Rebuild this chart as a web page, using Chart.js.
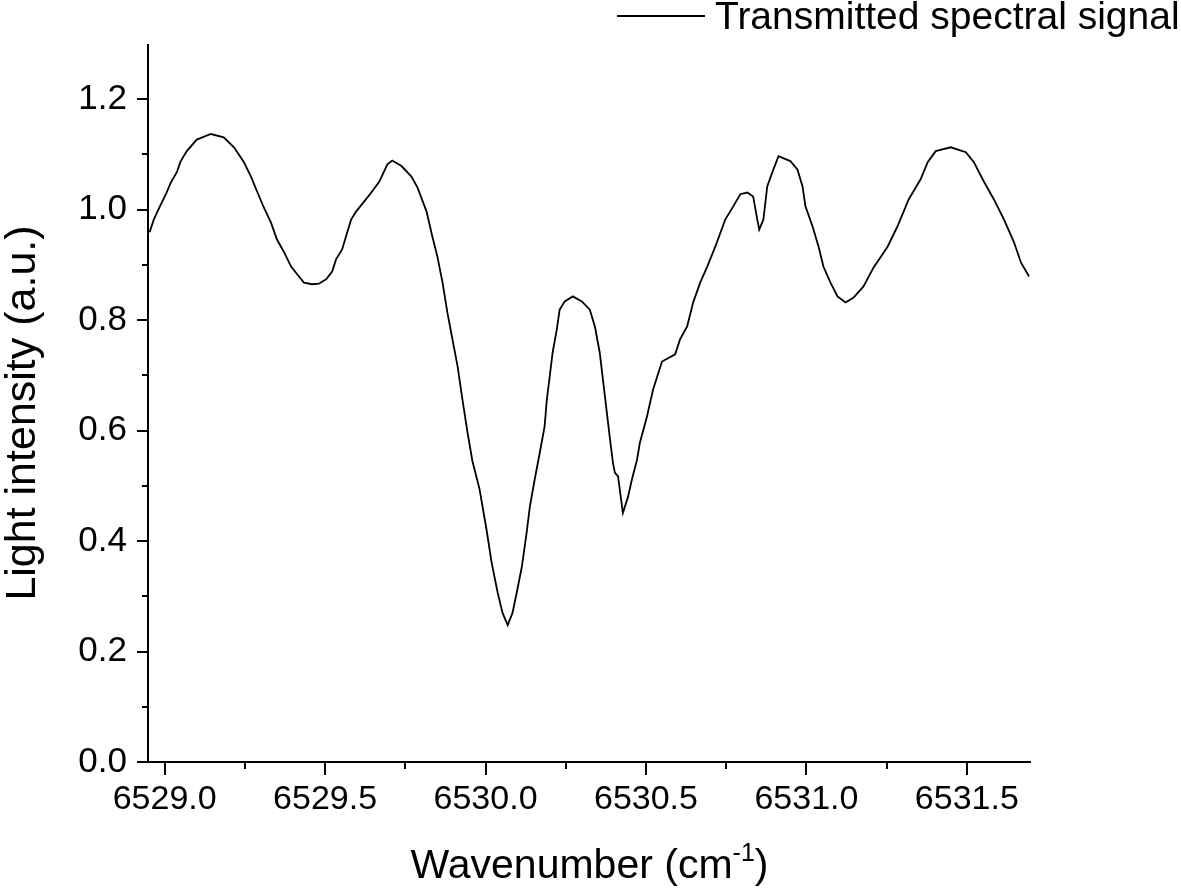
<!DOCTYPE html>
<html lang="en">
<head>
    <meta charset="UTF-8">
    <title>Transmitted spectral signal</title>
    <style>
        * {
            margin: 0;
            padding: 0;
            box-sizing: border-box;
        }
        body {
            background: #fff;
            width: 1181px;
            height: 890px;
            overflow: hidden;
        }
    </style>
</head>
<body>

    <canvas id="spectrumChart" width="1181" height="890"></canvas>

    <script src="https://cdn.jsdelivr.net/npm/chart.js"></script>

    <script>
        // Wavenumber (cm-1) and light intensity (a.u.)
        const wavenumber = [
            6528.953, 6528.966, 6528.981, 6529.006, 6529.019, 6529.038, 6529.050, 6529.069, 6529.100, 6529.144,
            6529.184, 6529.216, 6529.247, 6529.269, 6529.288, 6529.309, 6529.331, 6529.350, 6529.372, 6529.394,
            6529.413, 6529.434, 6529.459, 6529.481, 6529.503, 6529.522, 6529.534, 6529.553, 6529.569, 6529.581,
            6529.597, 6529.622, 6529.644, 6529.669, 6529.694, 6529.709, 6529.738, 6529.769, 6529.788, 6529.816,
            6529.834, 6529.850, 6529.866, 6529.881, 6529.897, 6529.913, 6529.928, 6529.944, 6529.959, 6529.981,
            6530.003, 6530.019, 6530.038, 6530.053, 6530.069, 6530.084, 6530.097, 6530.113, 6530.128, 6530.138,
            6530.153, 6530.169, 6530.184, 6530.191, 6530.200, 6530.209, 6530.222, 6530.231, 6530.247, 6530.272,
            6530.300, 6530.325, 6530.341, 6530.356, 6530.366, 6530.378, 6530.388, 6530.397, 6530.403, 6530.413,
            6530.428, 6530.444, 6530.456, 6530.472, 6530.481, 6530.503, 6530.522, 6530.550, 6530.591, 6530.606,
            6530.628, 6530.647, 6530.669, 6530.691, 6530.716, 6530.747, 6530.772, 6530.794, 6530.816, 6530.834,
            6530.847, 6530.853, 6530.866, 6530.878, 6530.894, 6530.913, 6530.950, 6530.972, 6530.988, 6530.997,
            6531.019, 6531.038, 6531.053, 6531.075, 6531.097, 6531.122, 6531.147, 6531.178, 6531.209, 6531.253,
            6531.284, 6531.319, 6531.356, 6531.378, 6531.403, 6531.450, 6531.497, 6531.522, 6531.553, 6531.584,
            6531.616, 6531.647, 6531.669, 6531.694
        ];
        const intensity = [
            0.959, 0.982, 1.001, 1.031, 1.049, 1.068, 1.088, 1.106, 1.127, 1.137,
            1.131, 1.113, 1.086, 1.060, 1.033, 1.004, 0.977, 0.946, 0.923, 0.897,
            0.883, 0.868, 0.865, 0.866, 0.874, 0.888, 0.910, 0.928, 0.959, 0.982,
            0.997, 1.015, 1.031, 1.051, 1.082, 1.089, 1.079, 1.060, 1.040, 0.997,
            0.952, 0.915, 0.868, 0.814, 0.765, 0.716, 0.656, 0.596, 0.545, 0.495,
            0.421, 0.361, 0.306, 0.270, 0.248, 0.270, 0.306, 0.353, 0.415, 0.462,
            0.511, 0.560, 0.607, 0.656, 0.698, 0.741, 0.783, 0.819, 0.834, 0.843,
            0.834, 0.819, 0.788, 0.741, 0.692, 0.633, 0.584, 0.542, 0.524, 0.517,
            0.451, 0.480, 0.511, 0.547, 0.578, 0.625, 0.674, 0.725, 0.738, 0.765,
            0.788, 0.832, 0.868, 0.897, 0.933, 0.982, 1.006, 1.028, 1.031, 1.024,
            0.982, 0.964, 0.982, 1.042, 1.068, 1.097, 1.088, 1.073, 1.042, 1.006,
            0.970, 0.933, 0.897, 0.868, 0.843, 0.832, 0.841, 0.861, 0.895, 0.933,
            0.970, 1.019, 1.055, 1.086, 1.106, 1.113, 1.104, 1.086, 1.051, 1.019,
            0.982, 0.941, 0.904, 0.879
        ];

        // Axis ticks
        const xMajorTicks = [6529.0, 6529.5, 6530.0, 6530.5, 6531.0, 6531.5];
        const xMinorTicks = [6529.25, 6529.75, 6530.25, 6530.75, 6531.25];
        const yMajorTicks = [0.0, 0.2, 0.4, 0.6, 0.8, 1.0, 1.2];
        const yMinorTicks = [0.1, 0.3, 0.5, 0.7, 0.9, 1.1];

        const seriesLabel = 'Transmitted spectral signal';
        const fontFamily = '"Liberation Sans", Arial, Helvetica, sans-serif';

        // Axis lines, outward ticks, legend and axis titles
        const frameDecor = {
            id: 'frameDecor',
            afterDraw(chart) {
                const c = chart.ctx;
                const area = chart.chartArea;
                const xs = chart.scales.x;
                const ys = chart.scales.y;
                c.save();
                c.strokeStyle = '#000';
                c.fillStyle = '#000';
                c.lineWidth = 2;

                // axis lines
                c.beginPath();
                c.moveTo(area.left, area.top);
                c.lineTo(area.left, area.bottom);
                c.moveTo(area.left - 1, area.bottom);
                c.lineTo(area.right, area.bottom);
                c.stroke();

                // ticks
                c.beginPath();
                xMajorTicks.forEach(v => {
                    const px = Math.round(xs.getPixelForValue(v));
                    c.moveTo(px, area.bottom);
                    c.lineTo(px, area.bottom + 13);
                });
                xMinorTicks.forEach(v => {
                    const px = Math.round(xs.getPixelForValue(v));
                    c.moveTo(px, area.bottom);
                    c.lineTo(px, area.bottom + 7);
                });
                yMajorTicks.forEach(v => {
                    const py = Math.round(ys.getPixelForValue(v));
                    c.moveTo(area.left, py);
                    c.lineTo(area.left - 11, py);
                });
                yMinorTicks.forEach(v => {
                    const py = Math.round(ys.getPixelForValue(v));
                    c.moveTo(area.left, py);
                    c.lineTo(area.left - 6, py);
                });
                c.stroke();

                // legend
                c.beginPath();
                c.moveTo(617, 16);
                c.lineTo(705, 16);
                c.stroke();
                c.font = '39px ' + fontFamily;
                c.textAlign = 'left';
                c.textBaseline = 'alphabetic';
                c.fillText(seriesLabel, 715, 29);

                // x title with superscript
                const mainFont = '41px ' + fontFamily;
                const supFont = '25px ' + fontFamily;
                const part1 = 'Wavenumber (cm';
                const sup = '-1';
                const part2 = ')';
                c.font = mainFont;
                const w1 = c.measureText(part1).width;
                const w3 = c.measureText(part2).width;
                c.font = supFont;
                const w2 = c.measureText(sup).width;
                let tx = (area.left + area.right) / 2 - (w1 + w2 + w3) / 2;
                const baseY = 878;
                c.font = mainFont;
                c.fillText(part1, tx, baseY);
                tx += w1;
                c.font = supFont;
                c.fillText(sup, tx, baseY - 17);
                tx += w2;
                c.font = mainFont;
                c.fillText(part2, tx, baseY);

                // y title
                c.translate(35, 413);
                c.rotate(-Math.PI / 2);
                c.font = '43px ' + fontFamily;
                c.textAlign = 'center';
                c.fillText('Light intensity (a.u.)', 0, 0);
                c.restore();
            }
        };

        const ctx = document.getElementById('spectrumChart').getContext('2d');
        new Chart(ctx, {
            type: 'line',
            data: {
                datasets: [{
                    label: seriesLabel,
                    data: wavenumber.map((x, i) => ({ x: x, y: intensity[i] })),
                    borderColor: '#000',
                    borderWidth: 1.8,
                    pointRadius: 0,
                    tension: 0,
                    fill: false
                }]
            },
            options: {
                responsive: false,
                devicePixelRatio: 1,
                animation: false,
                layout: { padding: { top: 44, right: 150, left: 0, bottom: 0 } },
                plugins: {
                    legend: { display: false },
                    tooltip: { enabled: false }
                },
                scales: {
                    x: {
                        type: 'linear',
                        min: 6528.948,
                        max: 6531.70,
                        afterBuildTicks: s => { s.ticks = xMajorTicks.map(v => ({ value: v })); },
                        afterFit: s => { s.height = 128; },
                        grid: { display: false, drawTicks: false },
                        border: { display: false },
                        ticks: {
                            color: '#000',
                            font: { family: fontFamily, size: 34 },
                            padding: 17,
                            maxRotation: 0,
                            callback: v => Number(v).toFixed(1)
                        }
                    },
                    y: {
                        min: 0,
                        max: 1.3,
                        afterBuildTicks: s => { s.ticks = yMajorTicks.map(v => ({ value: v })); },
                        afterFit: s => { s.width = 148; },
                        grid: { display: false, drawTicks: false },
                        border: { display: false },
                        ticks: {
                            color: '#000',
                            font: { family: fontFamily, size: 35 },
                            padding: 21,
                            callback: v => Number(v).toFixed(1)
                        }
                    }
                }
            },
            plugins: [frameDecor]
        });
    </script>

</body>
</html>
